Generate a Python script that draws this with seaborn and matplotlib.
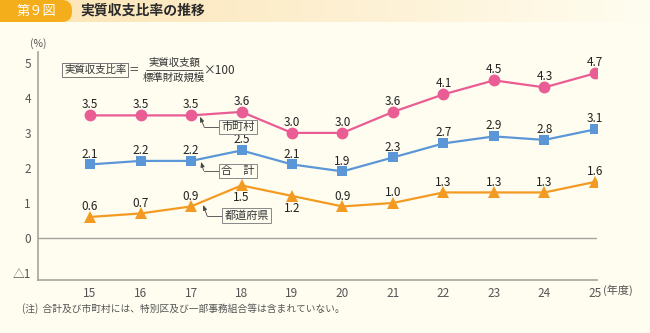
import numpy as np
import pandas as pd
import matplotlib
matplotlib.use("Agg")
import matplotlib.pyplot as plt
from matplotlib.patches import FancyBboxPatch
from matplotlib.colors import LinearSegmentedColormap
import seaborn as sns

# 年度
years = [15, 16, 17, 18, 19, 20, 21, 22, 23, 24, 25]
# 実質収支比率 (%)
municipal = [3.5, 3.5, 3.5, 3.6, 3.0, 3.0, 3.6, 4.1, 4.5, 4.3, 4.7]
total = [2.1, 2.2, 2.2, 2.5, 2.1, 1.9, 2.3, 2.7, 2.9, 2.8, 3.1]
prefecture = [0.6, 0.7, 0.9, 1.5, 1.2, 0.9, 1.0, 1.3, 1.3, 1.3, 1.6]
series_names = ["市町村", "合計", "都道府県"]
y_ticks = [-1, 0, 1, 2, 3, 4, 5]
y_tick_labels = ["△1", "0", "1", "2", "3", "4", "5"]

sns.set_theme(style="white")
plt.rcParams["font.family"] = ["Noto Sans CJK JP", "DejaVu Sans"]

BG = "#FFFDF0"
AXIS = "#A5A39B"
PINK = "#E95C94"
BLUE = "#5B97D6"
ORANGE = "#F39A22"
TXT = "#222222"
GREY_TXT = "#555555"

fig = plt.figure(figsize=(6.5, 3.33), dpi=100, facecolor=BG)
ax = fig.add_axes([38 / 650, 1 - 280 / 333, (597 - 38) / 650, (280 - 52) / 333])
ax.set_facecolor(BG)

df = pd.DataFrame({
    "year": years * 3,
    "value": municipal + total + prefecture,
    "series": [n for n in series_names for _ in years],
})

styles = {
    "市町村": dict(color=PINK, marker="o", ms=8.5),
    "合計": dict(color=BLUE, marker="s", ms=7),
    "都道府県": dict(color=ORANGE, marker="^", ms=9),
}
for name in series_names:
    sub = df[df["series"] == name]
    st = styles[name]
    sns.lineplot(data=sub, x="year", y="value", ax=ax, color=st["color"],
                 marker=st["marker"], markersize=st["ms"], markeredgewidth=0,
                 linewidth=1.6, legend=False)

# value labels (a few of the prefecture labels sit below their markers)
below = {("都道府県", 18), ("都道府県", 19)}
for name in series_names:
    sub = df[df["series"] == name]
    for x, v in zip(sub["year"], sub["value"]):
        dy = -9 if (name, x) in below else 7.5
        ax.annotate(f"{v:.1f}", (x, v), xytext=(0, dy), textcoords="offset points",
                    ha="center", va="center", fontsize=8.5, color=TXT)

ax.set_xlim(13.97, 25.04)
ax.set_ylim(-1.2, 5.31)
ax.set_xticks(years)
ax.set_xticklabels([str(y) for y in years])
ax.set_yticks(y_ticks)
ax.set_yticklabels(y_tick_labels)
ax.set_xlabel("")
ax.set_ylabel("")
ax.tick_params(axis="both", direction="in", length=3, width=0.8, color=AXIS,
               labelsize=8.5, labelcolor=GREY_TXT)
ax.tick_params(axis="x", pad=5)
ax.tick_params(axis="y", pad=5)
for s in ["top", "right"]:
    ax.spines[s].set_visible(False)
for s in ["left", "bottom"]:
    ax.spines[s].set_color(AXIS)
    ax.spines[s].set_linewidth(1.2)
ax.axhline(0, color=AXIS, lw=1.0, zorder=0)

# series callouts
def callout(text, tip, elbow, box_xy):
    ax.annotate("", xy=tip, xytext=elbow,
                arrowprops=dict(arrowstyle="-|>,head_length=0.25,head_width=0.1",
                                color="#444444", lw=0.6, shrinkA=0, shrinkB=0))
    ax.plot([elbow[0], box_xy[0]], [elbow[1], elbow[1]], color="#444444", lw=0.6)
    ax.text(box_xy[0], box_xy[1], text, ha="left", va="center", fontsize=8,
            color="#333333",
            bbox=dict(boxstyle="square,pad=0.2", fc=BG, ec="#888888", lw=0.7))

callout("市町村", (17.18, 3.46), (17.26, 3.17), (17.6, 3.17))
callout("合　計", (17.2, 2.17), (17.25, 1.92), (17.6, 1.92))
callout("都道府県", (17.24, 0.94), (17.32, 0.63), (17.66, 0.63))

# formula
FS = 7.5
fig.text(64 / 650, 1 - 70 / 333, "実質収支比率", fontsize=FS, color="#333333",
         ha="left", va="center",
         bbox=dict(boxstyle="square,pad=0.15", fc=BG, ec="#777777", lw=0.7))
fig.text(134 / 650, 1 - 70 / 333, "＝", fontsize=FS, color="#333333", ha="center", va="center")
fig.text(174 / 650, 1 - 63 / 333, "実質収支額", fontsize=FS, color="#333333", ha="center", va="center")
fig.text(174 / 650, 1 - 77.5 / 333, "標準財政規模", fontsize=FS, color="#333333", ha="center", va="center")
fig.add_artist(plt.Line2D([146 / 650, 202 / 650], [1 - 70 / 333, 1 - 70 / 333],
                          color="#555555", lw=0.7))
fig.text(204 / 650, 1 - 70 / 333, "×100", fontsize=8.5, color="#333333", ha="left", va="center")

# axis captions
fig.text(38 / 650, 1 - 44 / 333, "(%)", fontsize=7.5, color=GREY_TXT, ha="center", va="center")
fig.text(603 / 650, 1 - 290.5 / 333, "(年度)", fontsize=8, color=GREY_TXT, ha="left", va="center")

# note
fig.text(22 / 650, 1 - 309 / 333, "(注)  合計及び市町村には、特別区及び一部事務組合等は含まれていない。",
         fontsize=7, color=GREY_TXT, ha="left", va="center")

# title band
grad = np.linspace(0, 1, 256).reshape(1, -1)
band_ax = fig.add_axes([0, 1 - 22 / 333, 1, 22 / 333])
band_ax.axis("off")
cmap = LinearSegmentedColormap.from_list("band", ["#FCE4B4", "#FDEFD0", BG])
band_ax.imshow(grad, aspect="auto", cmap=cmap, extent=[0, 650, 0, 22])
band_ax.set_xlim(0, 650)
band_ax.set_ylim(0, 22)
band_ax.add_patch(FancyBboxPatch((-20, 0), 92, 22, boxstyle="round,pad=0,rounding_size=10",
                                 fc="#F4AE1C", ec="none"))
band_ax.text(36, 11, "第９図", fontsize=9.5, color="white", ha="center", va="center")
band_ax.text(80, 11, "実質収支比率の推移", fontsize=10, color="#2A2A2A",
             ha="left", va="center", fontweight="bold")

fig.savefig("out.png", dpi=100, facecolor=BG)
